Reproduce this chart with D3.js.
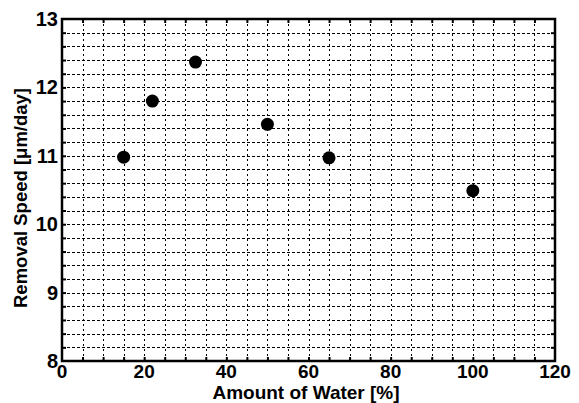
<!DOCTYPE html>
<html>
<head>
<meta charset="utf-8">
<script src="https://cdn.jsdelivr.net/npm/d3@7"></script>
<style>
  body { margin: 0; background: #fff; }
  text { font-family: "Liberation Sans", Arial, sans-serif; font-weight: bold; fill: #000; }
</style>
</head>
<body>
<svg id="chart" width="579" height="403"></svg>
<script>
const waterAmount = [15, 22, 32.5, 50, 65, 100];
const removalSpeed = [10.98, 11.8, 12.37, 11.46, 10.97, 10.49];
const xTicks = [0, 20, 40, 60, 80, 100, 120];
const yTicks = [8, 9, 10, 11, 12, 13];

const margin = { top: 19, right: 24, bottom: 42, left: 62 };
const svg = d3.select('#chart');
const width = 579 - margin.left - margin.right;
const height = 403 - margin.top - margin.bottom;

const x = d3.scaleLinear().domain([0, 120]).range([0, width]);
const y = d3.scaleLinear().domain([8, 13]).range([height, 0]);

const g = svg.append('g')
  .attr('transform', `translate(${margin.left},${margin.top})`);

// dotted grid, every 5 % and every 0.2 um/day
const xGrid = d3.range(1, 24).map(i => i * 5);
const yGrid = d3.range(1, 25).map(i => 8 + i * 0.2);
g.append('g').selectAll('line')
  .data(xGrid)
  .enter().append('line')
    .attr('x1', d => Math.round(x(d)) + 0.5).attr('x2', d => Math.round(x(d)) + 0.5)
    .attr('y1', 0).attr('y2', height)
    .attr('stroke', '#000').attr('stroke-width', 1)
    .attr('stroke-dasharray', '2,3');
g.append('g').selectAll('line')
  .data(yGrid)
  .enter().append('line')
    .attr('x1', 0).attr('x2', width)
    .attr('y1', d => Math.round(y(d)) + 0.5).attr('y2', d => Math.round(y(d)) + 0.5)
    .attr('stroke', '#000').attr('stroke-width', 1)
    .attr('stroke-dasharray', '3,2');

// inward ticks on all four sides
const tickLen = 4;
const addAxis = (axis, transform) => {
  const a = g.append('g').attr('transform', transform).call(axis);
  a.select('.domain').remove();
  a.selectAll('line').attr('stroke', '#000').attr('stroke-width', 2);
  a.selectAll('text').remove();
  return a;
};
addAxis(d3.axisBottom(x).tickValues(xGrid).tickSize(-tickLen), `translate(0,${height})`);
addAxis(d3.axisTop(x).tickValues(xGrid).tickSize(-tickLen), 'translate(0,0)');
addAxis(d3.axisLeft(y).tickValues(yGrid).tickSize(-tickLen), 'translate(0,0)');
addAxis(d3.axisRight(y).tickValues(yGrid).tickSize(-tickLen), `translate(${width},0)`);

// tick labels
g.append('g').selectAll('text')
  .data(xTicks)
  .enter().append('text')
    .attr('x', d => x(d))
    .attr('y', height + 17)
    .attr('text-anchor', 'middle')
    .style('font-size', '19px')
    .text(d => d);
g.append('g').selectAll('text')
  .data(yTicks)
  .enter().append('text')
    .attr('x', -4)
    .attr('y', d => y(d) + 7)
    .attr('text-anchor', 'end')
    .style('font-size', '20px')
    .text(d => d);

// frame
g.append('rect')
  .attr('width', width).attr('height', height)
  .attr('fill', 'none').attr('stroke', '#000').attr('stroke-width', 2.5);

// points
g.append('g').selectAll('circle')
  .data(waterAmount)
  .enter().append('circle')
    .attr('cx', d => x(d))
    .attr('cy', (d, i) => y(removalSpeed[i]))
    .attr('r', 6.5)
    .attr('fill', '#000');

// axis titles
svg.append('text')
  .attr('x', 306)
  .attr('y', 399)
  .attr('text-anchor', 'middle')
  .style('font-size', '19px')
  .text('Amount of Water [%]');
svg.append('text')
  .attr('transform', 'translate(27,198) rotate(-90)')
  .attr('text-anchor', 'middle')
  .style('font-size', '18.5px')
  .text('Removal Speed [μm/day]');
</script>
</body>
</html>
